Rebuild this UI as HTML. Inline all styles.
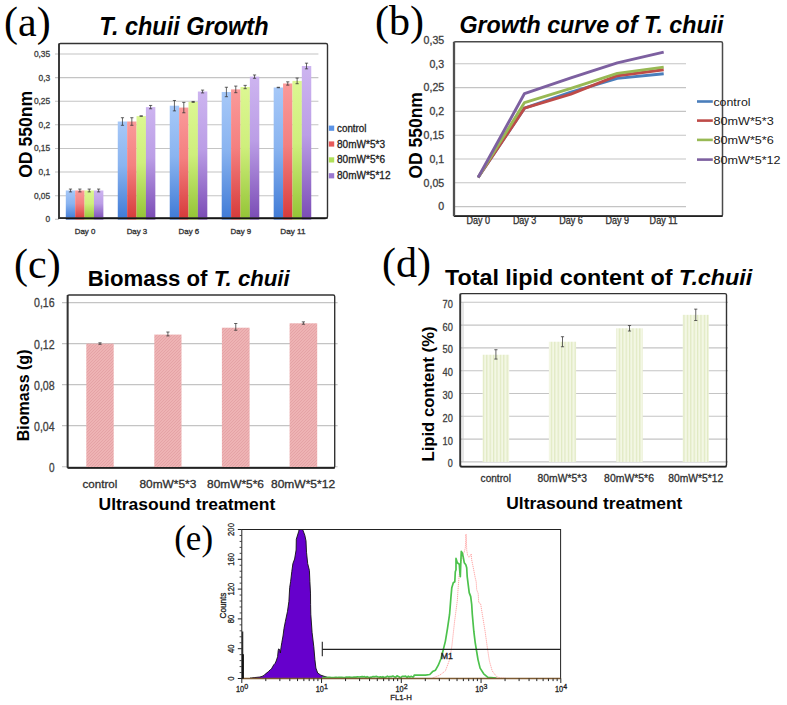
<!DOCTYPE html>
<html><head><meta charset="utf-8"><style>
html,body{margin:0;padding:0;background:#fff;}
svg{display:block;}
</style></head><body>
<svg width="787" height="705" viewBox="0 0 787 705">
<rect width="787" height="705" fill="#fff"/>
<defs>
<linearGradient id="gb" x1="0" y1="0" x2="0" y2="1"><stop offset="0" stop-color="#a6c8f8"/><stop offset="0.45" stop-color="#8ab4f0"/><stop offset="1" stop-color="#3f7ad6"/></linearGradient>
<linearGradient id="gr" x1="0" y1="0" x2="0" y2="1"><stop offset="0" stop-color="#fa9a9a"/><stop offset="0.45" stop-color="#f48080"/><stop offset="1" stop-color="#d63a3a"/></linearGradient>
<linearGradient id="gg" x1="0" y1="0" x2="0" y2="1"><stop offset="0" stop-color="#dcf792"/><stop offset="0.45" stop-color="#cfef7c"/><stop offset="1" stop-color="#93c435"/></linearGradient>
<linearGradient id="gp" x1="0" y1="0" x2="0" y2="1"><stop offset="0" stop-color="#cdb4f0"/><stop offset="0.45" stop-color="#bb9ee6"/><stop offset="1" stop-color="#7a4bb5"/></linearGradient>
<pattern id="hatchR" width="3" height="3" patternUnits="userSpaceOnUse"><rect width="3" height="3" fill="#eeb3b4"/><path d="M0,3 L3,0 M-1,1 L1,-1 M2,4 L4,2" stroke="#e29ea1" stroke-width="0.75"/></pattern>
<pattern id="hatchG" width="3.4" height="10" patternUnits="userSpaceOnUse"><rect width="3.4" height="10" fill="#f3f7e4"/><rect x="0" width="1.2" height="10" fill="#e0e9c2"/></pattern>
</defs>
<text x="4.00" y="35.50" font-size="42" fill="#000" font-family='"Liberation Serif", serif'>(a)</text>
<text x="375.00" y="35.20" font-size="42" fill="#000" font-family='"Liberation Serif", serif'>(b)</text>
<text x="14.00" y="277.50" font-size="42" fill="#000" font-family='"Liberation Serif", serif'>(c)</text>
<text x="382.00" y="276.70" font-size="42" fill="#000" font-family='"Liberation Serif", serif'>(d)</text>
<text x="174.20" y="550.20" font-size="35" fill="#000" font-family='"Liberation Serif", serif'>(e)</text>
<line x1="55.00" y1="195.68" x2="318.40" y2="195.68" stroke="#c4c4c4" stroke-width="1.1"/>
<line x1="55.00" y1="172.06" x2="318.40" y2="172.06" stroke="#c4c4c4" stroke-width="1.1"/>
<line x1="55.00" y1="148.44" x2="318.40" y2="148.44" stroke="#c4c4c4" stroke-width="1.1"/>
<line x1="55.00" y1="124.82" x2="318.40" y2="124.82" stroke="#c4c4c4" stroke-width="1.1"/>
<line x1="55.00" y1="101.20" x2="318.40" y2="101.20" stroke="#c4c4c4" stroke-width="1.1"/>
<line x1="55.00" y1="77.58" x2="318.40" y2="77.58" stroke="#c4c4c4" stroke-width="1.1"/>
<line x1="55.00" y1="53.96" x2="318.40" y2="53.96" stroke="#c4c4c4" stroke-width="1.1"/>
<line x1="55.00" y1="219.30" x2="59.00" y2="219.30" stroke="#c4c4c4" stroke-width="1.1"/>
<rect x="59.00" y="43.50" width="268.50" height="174.60" fill="none" stroke="#333" stroke-width="1.4" rx="1.5"/>
<rect x="65.80" y="190.48" width="9.43" height="29.02" fill="url(#gb)"/>
<rect x="75.18" y="190.48" width="9.43" height="29.02" fill="url(#gr)"/>
<rect x="84.56" y="190.48" width="9.43" height="29.02" fill="url(#gg)"/>
<rect x="93.94" y="190.48" width="9.43" height="29.02" fill="url(#gp)"/>
<rect x="117.77" y="121.51" width="9.43" height="97.99" fill="url(#gb)"/>
<rect x="127.15" y="121.51" width="9.43" height="97.99" fill="url(#gr)"/>
<rect x="136.53" y="116.08" width="9.43" height="103.42" fill="url(#gg)"/>
<rect x="145.91" y="107.11" width="9.43" height="112.39" fill="url(#gp)"/>
<rect x="169.74" y="105.69" width="9.43" height="113.81" fill="url(#gb)"/>
<rect x="179.12" y="107.58" width="9.43" height="111.92" fill="url(#gr)"/>
<rect x="188.50" y="101.91" width="9.43" height="117.59" fill="url(#gg)"/>
<rect x="197.88" y="91.52" width="9.43" height="127.98" fill="url(#gp)"/>
<rect x="221.71" y="91.99" width="9.43" height="127.51" fill="url(#gb)"/>
<rect x="231.09" y="89.39" width="9.43" height="130.11" fill="url(#gr)"/>
<rect x="240.47" y="87.03" width="9.43" height="132.47" fill="url(#gg)"/>
<rect x="249.85" y="76.64" width="9.43" height="142.86" fill="url(#gp)"/>
<rect x="273.68" y="87.50" width="9.43" height="132.00" fill="url(#gb)"/>
<rect x="283.06" y="83.49" width="9.43" height="136.01" fill="url(#gr)"/>
<rect x="292.44" y="80.89" width="9.43" height="138.61" fill="url(#gg)"/>
<rect x="301.82" y="66.01" width="9.43" height="153.49" fill="url(#gp)"/>
<line x1="58.20" y1="218.10" x2="327.50" y2="218.10" stroke="#2a2a2a" stroke-width="1.7"/>
<rect x="65.80" y="218.10" width="259.85" height="1.30" fill="rgba(0,0,0,0.55)"/>
<line x1="59.00" y1="43.50" x2="59.00" y2="218.90" stroke="#333" stroke-width="1.7"/>
<line x1="70.49" y1="189.07" x2="70.49" y2="191.90" stroke="#333" stroke-width="0.75"/>
<line x1="68.89" y1="189.07" x2="72.09" y2="189.07" stroke="#333" stroke-width="0.75"/>
<line x1="68.89" y1="191.90" x2="72.09" y2="191.90" stroke="#333" stroke-width="0.75"/>
<line x1="79.87" y1="189.07" x2="79.87" y2="191.90" stroke="#333" stroke-width="0.75"/>
<line x1="78.27" y1="189.07" x2="81.47" y2="189.07" stroke="#333" stroke-width="0.75"/>
<line x1="78.27" y1="191.90" x2="81.47" y2="191.90" stroke="#333" stroke-width="0.75"/>
<line x1="89.25" y1="189.07" x2="89.25" y2="191.90" stroke="#333" stroke-width="0.75"/>
<line x1="87.65" y1="189.07" x2="90.85" y2="189.07" stroke="#333" stroke-width="0.75"/>
<line x1="87.65" y1="191.90" x2="90.85" y2="191.90" stroke="#333" stroke-width="0.75"/>
<line x1="98.63" y1="189.07" x2="98.63" y2="191.90" stroke="#333" stroke-width="0.75"/>
<line x1="97.03" y1="189.07" x2="100.23" y2="189.07" stroke="#333" stroke-width="0.75"/>
<line x1="97.03" y1="191.90" x2="100.23" y2="191.90" stroke="#333" stroke-width="0.75"/>
<line x1="122.46" y1="117.73" x2="122.46" y2="125.29" stroke="#333" stroke-width="0.75"/>
<line x1="120.86" y1="117.73" x2="124.06" y2="117.73" stroke="#333" stroke-width="0.75"/>
<line x1="120.86" y1="125.29" x2="124.06" y2="125.29" stroke="#333" stroke-width="0.75"/>
<line x1="131.84" y1="117.73" x2="131.84" y2="125.29" stroke="#333" stroke-width="0.75"/>
<line x1="130.24" y1="117.73" x2="133.44" y2="117.73" stroke="#333" stroke-width="0.75"/>
<line x1="130.24" y1="125.29" x2="133.44" y2="125.29" stroke="#333" stroke-width="0.75"/>
<line x1="141.22" y1="115.84" x2="141.22" y2="116.32" stroke="#333" stroke-width="0.75"/>
<line x1="139.62" y1="115.84" x2="142.82" y2="115.84" stroke="#333" stroke-width="0.75"/>
<line x1="139.62" y1="116.32" x2="142.82" y2="116.32" stroke="#333" stroke-width="0.75"/>
<line x1="150.60" y1="105.45" x2="150.60" y2="108.76" stroke="#333" stroke-width="0.75"/>
<line x1="149.00" y1="105.45" x2="152.20" y2="105.45" stroke="#333" stroke-width="0.75"/>
<line x1="149.00" y1="108.76" x2="152.20" y2="108.76" stroke="#333" stroke-width="0.75"/>
<line x1="174.43" y1="100.49" x2="174.43" y2="110.88" stroke="#333" stroke-width="0.75"/>
<line x1="172.83" y1="100.49" x2="176.03" y2="100.49" stroke="#333" stroke-width="0.75"/>
<line x1="172.83" y1="110.88" x2="176.03" y2="110.88" stroke="#333" stroke-width="0.75"/>
<line x1="183.81" y1="102.38" x2="183.81" y2="112.77" stroke="#333" stroke-width="0.75"/>
<line x1="182.21" y1="102.38" x2="185.41" y2="102.38" stroke="#333" stroke-width="0.75"/>
<line x1="182.21" y1="112.77" x2="185.41" y2="112.77" stroke="#333" stroke-width="0.75"/>
<line x1="193.19" y1="101.44" x2="193.19" y2="102.38" stroke="#333" stroke-width="0.75"/>
<line x1="191.59" y1="101.44" x2="194.79" y2="101.44" stroke="#333" stroke-width="0.75"/>
<line x1="191.59" y1="102.38" x2="194.79" y2="102.38" stroke="#333" stroke-width="0.75"/>
<line x1="202.57" y1="90.10" x2="202.57" y2="92.93" stroke="#333" stroke-width="0.75"/>
<line x1="200.97" y1="90.10" x2="204.17" y2="90.10" stroke="#333" stroke-width="0.75"/>
<line x1="200.97" y1="92.93" x2="204.17" y2="92.93" stroke="#333" stroke-width="0.75"/>
<line x1="226.40" y1="87.26" x2="226.40" y2="96.71" stroke="#333" stroke-width="0.75"/>
<line x1="224.80" y1="87.26" x2="228.00" y2="87.26" stroke="#333" stroke-width="0.75"/>
<line x1="224.80" y1="96.71" x2="228.00" y2="96.71" stroke="#333" stroke-width="0.75"/>
<line x1="235.78" y1="86.08" x2="235.78" y2="92.70" stroke="#333" stroke-width="0.75"/>
<line x1="234.18" y1="86.08" x2="237.38" y2="86.08" stroke="#333" stroke-width="0.75"/>
<line x1="234.18" y1="92.70" x2="237.38" y2="92.70" stroke="#333" stroke-width="0.75"/>
<line x1="245.16" y1="85.37" x2="245.16" y2="88.68" stroke="#333" stroke-width="0.75"/>
<line x1="243.56" y1="85.37" x2="246.76" y2="85.37" stroke="#333" stroke-width="0.75"/>
<line x1="243.56" y1="88.68" x2="246.76" y2="88.68" stroke="#333" stroke-width="0.75"/>
<line x1="254.54" y1="74.98" x2="254.54" y2="78.29" stroke="#333" stroke-width="0.75"/>
<line x1="252.94" y1="74.98" x2="256.14" y2="74.98" stroke="#333" stroke-width="0.75"/>
<line x1="252.94" y1="78.29" x2="256.14" y2="78.29" stroke="#333" stroke-width="0.75"/>
<line x1="278.37" y1="87.26" x2="278.37" y2="87.74" stroke="#333" stroke-width="0.75"/>
<line x1="276.77" y1="87.26" x2="279.97" y2="87.26" stroke="#333" stroke-width="0.75"/>
<line x1="276.77" y1="87.74" x2="279.97" y2="87.74" stroke="#333" stroke-width="0.75"/>
<line x1="287.75" y1="81.83" x2="287.75" y2="85.14" stroke="#333" stroke-width="0.75"/>
<line x1="286.15" y1="81.83" x2="289.35" y2="81.83" stroke="#333" stroke-width="0.75"/>
<line x1="286.15" y1="85.14" x2="289.35" y2="85.14" stroke="#333" stroke-width="0.75"/>
<line x1="297.13" y1="78.05" x2="297.13" y2="83.72" stroke="#333" stroke-width="0.75"/>
<line x1="295.53" y1="78.05" x2="298.73" y2="78.05" stroke="#333" stroke-width="0.75"/>
<line x1="295.53" y1="83.72" x2="298.73" y2="83.72" stroke="#333" stroke-width="0.75"/>
<line x1="306.51" y1="63.17" x2="306.51" y2="68.84" stroke="#333" stroke-width="0.75"/>
<line x1="304.91" y1="63.17" x2="308.11" y2="63.17" stroke="#333" stroke-width="0.75"/>
<line x1="304.91" y1="68.84" x2="308.11" y2="68.84" stroke="#333" stroke-width="0.75"/>
<text x="50.20" y="222.30" font-size="8.4" fill="#404040" font-family='"Liberation Sans", sans-serif' stroke="#404040" stroke-width="0.3" text-anchor="end">0</text>
<text x="50.20" y="198.68" font-size="8.4" fill="#404040" font-family='"Liberation Sans", sans-serif' stroke="#404040" stroke-width="0.3" text-anchor="end">0,05</text>
<text x="50.20" y="175.06" font-size="8.4" fill="#404040" font-family='"Liberation Sans", sans-serif' stroke="#404040" stroke-width="0.3" text-anchor="end">0,1</text>
<text x="50.20" y="151.44" font-size="8.4" fill="#404040" font-family='"Liberation Sans", sans-serif' stroke="#404040" stroke-width="0.3" text-anchor="end">0,15</text>
<text x="50.20" y="127.82" font-size="8.4" fill="#404040" font-family='"Liberation Sans", sans-serif' stroke="#404040" stroke-width="0.3" text-anchor="end">0,2</text>
<text x="50.20" y="104.20" font-size="8.4" fill="#404040" font-family='"Liberation Sans", sans-serif' stroke="#404040" stroke-width="0.3" text-anchor="end">0,25</text>
<text x="50.20" y="80.58" font-size="8.4" fill="#404040" font-family='"Liberation Sans", sans-serif' stroke="#404040" stroke-width="0.3" text-anchor="end">0,3</text>
<text x="50.20" y="56.96" font-size="8.4" fill="#404040" font-family='"Liberation Sans", sans-serif' stroke="#404040" stroke-width="0.3" text-anchor="end">0,35</text>
<text x="85.00" y="233.50" font-size="7.6" fill="#303030" font-family='"Liberation Sans", sans-serif' stroke="#303030" stroke-width="0.3" text-anchor="middle" textLength="20.60" lengthAdjust="spacingAndGlyphs">Day 0</text>
<text x="136.97" y="233.50" font-size="7.6" fill="#303030" font-family='"Liberation Sans", sans-serif' stroke="#303030" stroke-width="0.3" text-anchor="middle" textLength="20.60" lengthAdjust="spacingAndGlyphs">Day 3</text>
<text x="188.94" y="233.50" font-size="7.6" fill="#303030" font-family='"Liberation Sans", sans-serif' stroke="#303030" stroke-width="0.3" text-anchor="middle" textLength="20.60" lengthAdjust="spacingAndGlyphs">Day 6</text>
<text x="240.91" y="233.50" font-size="7.6" fill="#303030" font-family='"Liberation Sans", sans-serif' stroke="#303030" stroke-width="0.3" text-anchor="middle" textLength="20.60" lengthAdjust="spacingAndGlyphs">Day 9</text>
<text x="292.88" y="233.50" font-size="7.6" fill="#303030" font-family='"Liberation Sans", sans-serif' stroke="#303030" stroke-width="0.3" text-anchor="middle" textLength="25.20" lengthAdjust="spacingAndGlyphs">Day 11</text>
<text x="32.20" y="177.80" font-size="19" fill="#000" font-family='"Liberation Sans", sans-serif' font-weight="bold" textLength="86.80" lengthAdjust="spacingAndGlyphs" transform="rotate(-90 32.20 177.80)">OD 550nm</text>
<text x="99.30" y="34.50" font-size="26" fill="#000" font-family='"Liberation Sans", sans-serif' font-weight="bold" font-style="italic" textLength="169.20" lengthAdjust="spacingAndGlyphs">T. chuii Growth</text>
<rect x="328.80" y="125.60" width="5.40" height="5.20" fill="#5b93e6"/>
<rect x="328.80" y="141.40" width="5.40" height="5.20" fill="#e65a5a"/>
<rect x="328.80" y="157.30" width="5.40" height="5.20" fill="#b0e05a"/>
<rect x="328.80" y="173.20" width="5.40" height="5.20" fill="#9a78d0"/>
<text x="337.00" y="131.70" font-size="10.0" fill="#222" font-family='"Liberation Sans", sans-serif' stroke="#222" stroke-width="0.3" textLength="29.50" lengthAdjust="spacingAndGlyphs">control</text>
<text x="337.00" y="147.50" font-size="10.0" fill="#222" font-family='"Liberation Sans", sans-serif' stroke="#222" stroke-width="0.3" textLength="48.00" lengthAdjust="spacingAndGlyphs">80mW*5*3</text>
<text x="337.00" y="163.40" font-size="10.0" fill="#222" font-family='"Liberation Sans", sans-serif' stroke="#222" stroke-width="0.3" textLength="48.00" lengthAdjust="spacingAndGlyphs">80mW*5*6</text>
<text x="337.00" y="179.30" font-size="10.0" fill="#222" font-family='"Liberation Sans", sans-serif' stroke="#222" stroke-width="0.3" textLength="53.50" lengthAdjust="spacingAndGlyphs">80mW*5*12</text>
<line x1="455.00" y1="206.60" x2="686.00" y2="206.60" stroke="#c4c4c4" stroke-width="1.1"/>
<line x1="455.00" y1="182.80" x2="686.00" y2="182.80" stroke="#c4c4c4" stroke-width="1.1"/>
<line x1="455.00" y1="159.00" x2="686.00" y2="159.00" stroke="#c4c4c4" stroke-width="1.1"/>
<line x1="455.00" y1="135.20" x2="686.00" y2="135.20" stroke="#c4c4c4" stroke-width="1.1"/>
<line x1="455.00" y1="111.40" x2="686.00" y2="111.40" stroke="#c4c4c4" stroke-width="1.1"/>
<line x1="455.00" y1="87.60" x2="686.00" y2="87.60" stroke="#c4c4c4" stroke-width="1.1"/>
<line x1="455.00" y1="63.80" x2="686.00" y2="63.80" stroke="#c4c4c4" stroke-width="1.1"/>
<rect x="454.00" y="41.80" width="268.50" height="174.40" fill="none" stroke="#4a4a4a" stroke-width="1.5" rx="1.5"/>
<line x1="454.00" y1="216.20" x2="722.50" y2="216.20" stroke="#222" stroke-width="1.8"/>
<line x1="454.00" y1="41.80" x2="454.00" y2="216.20" stroke="#505050" stroke-width="2.3"/>
<polyline points="478.10,177.56 524.50,108.07 570.90,92.12 617.30,78.32 663.70,73.80" fill="none" stroke="#4a7ebb" stroke-width="2.9" stroke-linejoin="round"/>
<polyline points="478.10,177.56 524.50,108.07 570.90,94.03 617.30,75.70 663.70,69.75" fill="none" stroke="#be4b48" stroke-width="2.9" stroke-linejoin="round"/>
<polyline points="478.10,177.56 524.50,102.59 570.90,88.31 617.30,73.32 663.70,67.13" fill="none" stroke="#98b954" stroke-width="2.9" stroke-linejoin="round"/>
<polyline points="478.10,177.56 524.50,93.55 570.90,77.84 617.30,62.85 663.70,52.14" fill="none" stroke="#7d60a0" stroke-width="2.9" stroke-linejoin="round"/>
<text x="444.20" y="210.40" font-size="10.6" fill="#404040" font-family='"Liberation Sans", sans-serif' stroke="#404040" stroke-width="0.3" text-anchor="end">0</text>
<text x="444.20" y="186.60" font-size="10.6" fill="#404040" font-family='"Liberation Sans", sans-serif' stroke="#404040" stroke-width="0.3" text-anchor="end">0,05</text>
<text x="444.20" y="162.80" font-size="10.6" fill="#404040" font-family='"Liberation Sans", sans-serif' stroke="#404040" stroke-width="0.3" text-anchor="end">0,1</text>
<text x="444.20" y="139.00" font-size="10.6" fill="#404040" font-family='"Liberation Sans", sans-serif' stroke="#404040" stroke-width="0.3" text-anchor="end">0,15</text>
<text x="444.20" y="115.20" font-size="10.6" fill="#404040" font-family='"Liberation Sans", sans-serif' stroke="#404040" stroke-width="0.3" text-anchor="end">0,2</text>
<text x="444.20" y="91.40" font-size="10.6" fill="#404040" font-family='"Liberation Sans", sans-serif' stroke="#404040" stroke-width="0.3" text-anchor="end">0,25</text>
<text x="444.20" y="67.60" font-size="10.6" fill="#404040" font-family='"Liberation Sans", sans-serif' stroke="#404040" stroke-width="0.3" text-anchor="end">0,3</text>
<text x="444.20" y="43.80" font-size="10.6" fill="#404040" font-family='"Liberation Sans", sans-serif' stroke="#404040" stroke-width="0.3" text-anchor="end">0,35</text>
<text x="478.30" y="224.00" font-size="10" fill="#303030" font-family='"Liberation Sans", sans-serif' stroke="#303030" stroke-width="0.3" text-anchor="middle" textLength="23.50" lengthAdjust="spacingAndGlyphs">Day 0</text>
<text x="524.63" y="224.00" font-size="10" fill="#303030" font-family='"Liberation Sans", sans-serif' stroke="#303030" stroke-width="0.3" text-anchor="middle" textLength="23.50" lengthAdjust="spacingAndGlyphs">Day 3</text>
<text x="570.96" y="224.00" font-size="10" fill="#303030" font-family='"Liberation Sans", sans-serif' stroke="#303030" stroke-width="0.3" text-anchor="middle" textLength="23.50" lengthAdjust="spacingAndGlyphs">Day 6</text>
<text x="617.29" y="224.00" font-size="10" fill="#303030" font-family='"Liberation Sans", sans-serif' stroke="#303030" stroke-width="0.3" text-anchor="middle" textLength="23.50" lengthAdjust="spacingAndGlyphs">Day 9</text>
<text x="663.62" y="224.00" font-size="10" fill="#303030" font-family='"Liberation Sans", sans-serif' stroke="#303030" stroke-width="0.3" text-anchor="middle" textLength="28.00" lengthAdjust="spacingAndGlyphs">Day 11</text>
<text x="422.50" y="178.60" font-size="19" fill="#000" font-family='"Liberation Sans", sans-serif' font-weight="bold" textLength="86.50" lengthAdjust="spacingAndGlyphs" transform="rotate(-90 422.50 178.60)">OD 550nm</text>
<text x="459.50" y="32.70" font-size="24" fill="#000" font-family='"Liberation Sans", sans-serif' font-weight="bold" font-style="italic" textLength="264.00" lengthAdjust="spacingAndGlyphs">Growth curve of T. chuii</text>
<line x1="697.00" y1="101.50" x2="712.80" y2="101.50" stroke="#4a7ebb" stroke-width="2.6"/>
<line x1="697.00" y1="120.60" x2="712.80" y2="120.60" stroke="#be4b48" stroke-width="2.6"/>
<line x1="697.00" y1="139.90" x2="712.80" y2="139.90" stroke="#98b954" stroke-width="2.6"/>
<line x1="697.00" y1="159.60" x2="712.80" y2="159.60" stroke="#7d60a0" stroke-width="2.6"/>
<text x="713.40" y="105.90" font-size="10.4" fill="#1a1a1a" font-family='"Liberation Sans", sans-serif' textLength="37.20" lengthAdjust="spacingAndGlyphs">control</text>
<text x="713.40" y="125.00" font-size="10.4" fill="#1a1a1a" font-family='"Liberation Sans", sans-serif' textLength="60.40" lengthAdjust="spacingAndGlyphs">80mW*5*3</text>
<text x="713.40" y="144.30" font-size="10.4" fill="#1a1a1a" font-family='"Liberation Sans", sans-serif' textLength="60.40" lengthAdjust="spacingAndGlyphs">80mW*5*6</text>
<text x="713.40" y="164.00" font-size="10.4" fill="#1a1a1a" font-family='"Liberation Sans", sans-serif' textLength="67.20" lengthAdjust="spacingAndGlyphs">80mW*5*12</text>
<line x1="62.00" y1="466.70" x2="337.60" y2="466.70" stroke="#c4c4c4" stroke-width="1.1"/>
<line x1="62.00" y1="425.67" x2="337.60" y2="425.67" stroke="#c4c4c4" stroke-width="1.1"/>
<line x1="62.00" y1="384.64" x2="337.60" y2="384.64" stroke="#c4c4c4" stroke-width="1.1"/>
<line x1="62.00" y1="343.61" x2="337.60" y2="343.61" stroke="#c4c4c4" stroke-width="1.1"/>
<line x1="62.00" y1="302.58" x2="337.60" y2="302.58" stroke="#c4c4c4" stroke-width="1.1"/>
<rect x="86.30" y="343.61" width="27.40" height="124.29" fill="url(#hatchR)"/>
<rect x="154.30" y="334.58" width="27.20" height="133.32" fill="url(#hatchR)"/>
<rect x="221.90" y="327.71" width="27.70" height="140.19" fill="url(#hatchR)"/>
<rect x="289.60" y="323.30" width="27.60" height="144.60" fill="url(#hatchR)"/>
<rect x="67.60" y="295.00" width="267.10" height="172.90" fill="none" stroke="#333" stroke-width="1.4" rx="1.5"/>
<line x1="67.60" y1="467.90" x2="334.70" y2="467.90" stroke="#222" stroke-width="1.8"/>
<line x1="67.60" y1="295.00" x2="67.60" y2="467.90" stroke="#333" stroke-width="1.8"/>
<line x1="100.00" y1="342.79" x2="100.00" y2="344.33" stroke="#333" stroke-width="0.75"/>
<line x1="98.40" y1="342.79" x2="101.60" y2="342.79" stroke="#333" stroke-width="0.75"/>
<line x1="98.40" y1="344.33" x2="101.60" y2="344.33" stroke="#333" stroke-width="0.75"/>
<line x1="167.90" y1="332.02" x2="167.90" y2="335.92" stroke="#333" stroke-width="0.75"/>
<line x1="166.30" y1="332.02" x2="169.50" y2="332.02" stroke="#333" stroke-width="0.75"/>
<line x1="166.30" y1="335.92" x2="169.50" y2="335.92" stroke="#333" stroke-width="0.75"/>
<line x1="235.75" y1="323.51" x2="235.75" y2="330.28" stroke="#333" stroke-width="0.75"/>
<line x1="234.15" y1="323.51" x2="237.35" y2="323.51" stroke="#333" stroke-width="0.75"/>
<line x1="234.15" y1="330.28" x2="237.35" y2="330.28" stroke="#333" stroke-width="0.75"/>
<line x1="303.40" y1="321.86" x2="303.40" y2="324.22" stroke="#333" stroke-width="0.75"/>
<line x1="301.80" y1="321.86" x2="305.00" y2="321.86" stroke="#333" stroke-width="0.75"/>
<line x1="301.80" y1="324.22" x2="305.00" y2="324.22" stroke="#333" stroke-width="0.75"/>
<text x="54.60" y="471.60" font-size="12" fill="#404040" font-family='"Liberation Sans", sans-serif' stroke="#404040" stroke-width="0.3" text-anchor="end" textLength="5.60" lengthAdjust="spacingAndGlyphs">0</text>
<text x="54.60" y="430.57" font-size="12" fill="#404040" font-family='"Liberation Sans", sans-serif' stroke="#404040" stroke-width="0.3" text-anchor="end" textLength="20.60" lengthAdjust="spacingAndGlyphs">0,04</text>
<text x="54.60" y="389.54" font-size="12" fill="#404040" font-family='"Liberation Sans", sans-serif' stroke="#404040" stroke-width="0.3" text-anchor="end" textLength="20.60" lengthAdjust="spacingAndGlyphs">0,08</text>
<text x="54.60" y="348.51" font-size="12" fill="#404040" font-family='"Liberation Sans", sans-serif' stroke="#404040" stroke-width="0.3" text-anchor="end" textLength="20.60" lengthAdjust="spacingAndGlyphs">0,12</text>
<text x="54.60" y="307.48" font-size="12" fill="#404040" font-family='"Liberation Sans", sans-serif' stroke="#404040" stroke-width="0.3" text-anchor="end" textLength="20.60" lengthAdjust="spacingAndGlyphs">0,16</text>
<text x="82.50" y="488.00" font-size="10.8" fill="#303030" font-family='"Liberation Sans", sans-serif' stroke="#303030" stroke-width="0.3" textLength="34.80" lengthAdjust="spacingAndGlyphs">control</text>
<text x="139.40" y="488.00" font-size="10.8" fill="#303030" font-family='"Liberation Sans", sans-serif' stroke="#303030" stroke-width="0.3" textLength="56.90" lengthAdjust="spacingAndGlyphs">80mW*5*3</text>
<text x="207.00" y="488.00" font-size="10.8" fill="#303030" font-family='"Liberation Sans", sans-serif' stroke="#303030" stroke-width="0.3" textLength="57.00" lengthAdjust="spacingAndGlyphs">80mW*5*6</text>
<text x="271.00" y="488.00" font-size="10.8" fill="#303030" font-family='"Liberation Sans", sans-serif' stroke="#303030" stroke-width="0.3" textLength="64.10" lengthAdjust="spacingAndGlyphs">80mW*5*12</text>
<text x="98.50" y="509.70" font-size="17" fill="#000" font-family='"Liberation Sans", sans-serif' font-weight="bold" textLength="176.80" lengthAdjust="spacingAndGlyphs">Ultrasound treatment</text>
<text x="29.50" y="441.20" font-size="17" fill="#000" font-family='"Liberation Sans", sans-serif' font-weight="bold" textLength="91.70" lengthAdjust="spacingAndGlyphs" transform="rotate(-90 29.50 441.20)">Biomass (g)</text>
<text x="87.8" y="285.7" font-size="21.5" font-weight="bold" font-family='"Liberation Sans", sans-serif' textLength="201.9" lengthAdjust="spacingAndGlyphs">Biomass of <tspan font-style="italic">T. chuii</tspan></text>
<line x1="463.00" y1="302.00" x2="463.00" y2="462.00" stroke="#d0d0d0" stroke-width="1.0"/>
<line x1="460.50" y1="461.90" x2="728.00" y2="461.90" stroke="#c4c4c4" stroke-width="1.1"/>
<line x1="460.50" y1="439.10" x2="728.00" y2="439.10" stroke="#c4c4c4" stroke-width="1.1"/>
<line x1="460.50" y1="416.30" x2="728.00" y2="416.30" stroke="#c4c4c4" stroke-width="1.1"/>
<line x1="460.50" y1="393.50" x2="728.00" y2="393.50" stroke="#c4c4c4" stroke-width="1.1"/>
<line x1="460.50" y1="370.70" x2="728.00" y2="370.70" stroke="#c4c4c4" stroke-width="1.1"/>
<line x1="460.50" y1="347.90" x2="728.00" y2="347.90" stroke="#c4c4c4" stroke-width="1.1"/>
<line x1="460.50" y1="325.10" x2="728.00" y2="325.10" stroke="#c4c4c4" stroke-width="1.1"/>
<line x1="460.50" y1="302.30" x2="728.00" y2="302.30" stroke="#c4c4c4" stroke-width="1.1"/>
<rect x="482.60" y="354.74" width="26.60" height="107.16" fill="url(#hatchG)"/>
<rect x="548.90" y="341.74" width="27.20" height="120.16" fill="url(#hatchG)"/>
<rect x="616.20" y="328.29" width="26.60" height="133.61" fill="url(#hatchG)"/>
<rect x="682.70" y="314.84" width="26.10" height="147.06" fill="url(#hatchG)"/>
<rect x="460.30" y="293.60" width="266.20" height="173.00" fill="none" stroke="#333" stroke-width="1.4" rx="1.5"/>
<line x1="460.30" y1="466.60" x2="726.50" y2="466.60" stroke="#222" stroke-width="1.8"/>
<line x1="460.30" y1="293.60" x2="460.30" y2="466.60" stroke="#333" stroke-width="1.8"/>
<line x1="495.90" y1="349.72" x2="495.90" y2="359.07" stroke="#333" stroke-width="0.75"/>
<line x1="494.30" y1="349.72" x2="497.50" y2="349.72" stroke="#333" stroke-width="0.75"/>
<line x1="494.30" y1="359.07" x2="497.50" y2="359.07" stroke="#333" stroke-width="0.75"/>
<line x1="562.50" y1="336.73" x2="562.50" y2="346.76" stroke="#333" stroke-width="0.75"/>
<line x1="560.90" y1="336.73" x2="564.10" y2="336.73" stroke="#333" stroke-width="0.75"/>
<line x1="560.90" y1="346.76" x2="564.10" y2="346.76" stroke="#333" stroke-width="0.75"/>
<line x1="629.50" y1="325.56" x2="629.50" y2="331.03" stroke="#333" stroke-width="0.75"/>
<line x1="627.90" y1="325.56" x2="631.10" y2="325.56" stroke="#333" stroke-width="0.75"/>
<line x1="627.90" y1="331.03" x2="631.10" y2="331.03" stroke="#333" stroke-width="0.75"/>
<line x1="695.75" y1="309.14" x2="695.75" y2="320.54" stroke="#333" stroke-width="0.75"/>
<line x1="694.15" y1="309.14" x2="697.35" y2="309.14" stroke="#333" stroke-width="0.75"/>
<line x1="694.15" y1="320.54" x2="697.35" y2="320.54" stroke="#333" stroke-width="0.75"/>
<text x="452.80" y="467.30" font-size="10.9" fill="#404040" font-family='"Liberation Sans", sans-serif' stroke="#404040" stroke-width="0.3" text-anchor="end" textLength="5.00" lengthAdjust="spacingAndGlyphs">0</text>
<text x="452.80" y="444.50" font-size="10.9" fill="#404040" font-family='"Liberation Sans", sans-serif' stroke="#404040" stroke-width="0.3" text-anchor="end" textLength="10.30" lengthAdjust="spacingAndGlyphs">10</text>
<text x="452.80" y="421.70" font-size="10.9" fill="#404040" font-family='"Liberation Sans", sans-serif' stroke="#404040" stroke-width="0.3" text-anchor="end" textLength="10.30" lengthAdjust="spacingAndGlyphs">20</text>
<text x="452.80" y="398.90" font-size="10.9" fill="#404040" font-family='"Liberation Sans", sans-serif' stroke="#404040" stroke-width="0.3" text-anchor="end" textLength="10.30" lengthAdjust="spacingAndGlyphs">30</text>
<text x="452.80" y="376.10" font-size="10.9" fill="#404040" font-family='"Liberation Sans", sans-serif' stroke="#404040" stroke-width="0.3" text-anchor="end" textLength="10.30" lengthAdjust="spacingAndGlyphs">40</text>
<text x="452.80" y="353.30" font-size="10.9" fill="#404040" font-family='"Liberation Sans", sans-serif' stroke="#404040" stroke-width="0.3" text-anchor="end" textLength="10.30" lengthAdjust="spacingAndGlyphs">50</text>
<text x="452.80" y="330.50" font-size="10.9" fill="#404040" font-family='"Liberation Sans", sans-serif' stroke="#404040" stroke-width="0.3" text-anchor="end" textLength="10.30" lengthAdjust="spacingAndGlyphs">60</text>
<text x="452.80" y="307.70" font-size="10.9" fill="#404040" font-family='"Liberation Sans", sans-serif' stroke="#404040" stroke-width="0.3" text-anchor="end" textLength="10.30" lengthAdjust="spacingAndGlyphs">70</text>
<text x="480.60" y="482.00" font-size="10.8" fill="#303030" font-family='"Liberation Sans", sans-serif' stroke="#303030" stroke-width="0.3" textLength="30.30" lengthAdjust="spacingAndGlyphs">control</text>
<text x="537.60" y="482.00" font-size="10.8" fill="#303030" font-family='"Liberation Sans", sans-serif' stroke="#303030" stroke-width="0.3" textLength="49.40" lengthAdjust="spacingAndGlyphs">80mW*5*3</text>
<text x="604.10" y="482.00" font-size="10.8" fill="#303030" font-family='"Liberation Sans", sans-serif' stroke="#303030" stroke-width="0.3" textLength="49.90" lengthAdjust="spacingAndGlyphs">80mW*5*6</text>
<text x="668.20" y="482.00" font-size="10.8" fill="#303030" font-family='"Liberation Sans", sans-serif' stroke="#303030" stroke-width="0.3" textLength="55.10" lengthAdjust="spacingAndGlyphs">80mW*5*12</text>
<text x="506.30" y="509.10" font-size="17" fill="#000" font-family='"Liberation Sans", sans-serif' font-weight="bold" textLength="176.10" lengthAdjust="spacingAndGlyphs">Ultrasound treatment</text>
<text x="433.50" y="461.50" font-size="17" fill="#000" font-family='"Liberation Sans", sans-serif' font-weight="bold" textLength="135.00" lengthAdjust="spacingAndGlyphs" transform="rotate(-90 433.50 461.50)">Lipid content (%)</text>
<text x="444.9" y="285.4" font-size="22.3" font-weight="bold" font-family='"Liberation Sans", sans-serif' textLength="307.4" lengthAdjust="spacingAndGlyphs">Total lipid content of <tspan font-style="italic">T.chuii</tspan></text>
<path d="M250.0,678.2 L254.2,677.6 L259.9,677.0 L262.0,676.4 L264.1,675.4 L265.5,673.8 L267.0,672.8 L268.4,671.6 L270.5,669.5 L271.5,669.0 L272.6,666.7 L274.0,664.5 L275.0,663.5 L276.2,661.0 L277.6,656.7 L278.2,650.5 L278.6,648.9 L279.7,649.6 L280.4,653.0 L281.0,647.5 L281.8,642.6 L283.0,636.0 L284.0,628.4 L285.4,621.3 L286.5,616.0 L287.5,611.3 L288.9,601.4 L289.7,587.4 L290.6,581.7 L291.8,571.5 L292.9,563.6 L294.6,559.0 L296.1,550.0 L296.3,539.2 L298.6,531.8 L299.1,529.5 L302.9,529.5 L303.1,530.7 L304.8,535.2 L306.0,540.9 L306.5,552.2 L307.7,563.6 L309.4,570.4 L309.9,581.7 L310.5,593.1 L310.6,604.4 L310.8,614.2 L312.1,632.6 L313.8,646.8 L314.9,659.6 L315.9,668.1 L317.7,673.0 L320.9,675.2 L325.1,676.6 L328.7,677.7 L335.0,678.3 L335,678.5 L251.3,678.5 Z" fill="#6600cc" stroke="#111" stroke-width="0.9" stroke-linejoin="round"/>
<path d="M432.6,678.0 L439.7,675.2 L445.4,670.9 L449.6,659.6 L451.8,646.8 L454.6,621.3 L457.4,600.0 L457.8,592.6 L458.8,579.7 L459.8,569.8 L460.8,562.8 L462.8,554.9 L464.3,551.9 L465.3,547.9 L465.8,540.0 L465.7,534.3 L466.2,534.3 L466.7,549.9 L467.7,555.9 L469.2,557.4 L471.2,553.9 L471.7,559.9 L472.7,564.8 L473.7,569.8 L475.2,577.7 L476.2,581.7 L476.7,589.7 L478.2,593.6 L478.7,602.6 L480.6,603.6 L482.3,614.2 L485.1,631.2 L487.2,646.8 L489.4,661.0 L492.2,670.9 L496.5,676.6 L500.0,678.0 L506.0,678.3" fill="none" stroke="#ff9a9a" stroke-width="0.9" stroke-dasharray="1.2,0.8"/>
<path d="M322.0,677.6 L323.4,677.6 L324.8,677.5 L325.8,677.7 L327.4,677.6 L328.6,677.4 L329.9,677.4 L331.2,677.5 L332.2,677.5 L333.9,677.5 L335.5,677.4 L336.5,677.4 L337.9,677.6 L338.8,677.3 L340.1,677.3 L341.8,677.3 L343.6,677.5 L345.2,677.4 L346.9,677.1 L347.9,677.6 L349.0,677.0 L350.3,677.2 L351.5,677.3 L352.7,677.4 L354.1,677.2 L355.9,677.1 L357.6,676.9 L359.4,677.0 L360.4,676.8 L362.2,676.7 L363.6,676.9 L364.7,676.7 L366.1,677.4 L367.1,676.7 L368.9,677.6 L370.5,677.2 L371.5,677.3 L373.1,676.5 L374.0,676.9 L375.0,676.7 L376.2,676.4 L378.0,677.0 L379.8,677.2 L380.7,676.8 L381.7,677.4 L382.9,676.7 L384.0,677.6 L385.7,677.2 L387.4,676.2 L388.7,676.9 L390.0,676.6 L391.5,676.7 L392.9,676.0 L394.3,676.9 L395.8,677.2 L397.0,675.8 L398.4,676.6 L399.3,676.9 L400.7,677.7 L402.2,676.4 L403.1,676.4 L404.4,676.3 L405.6,676.2 L407.2,677.7 L408.2,676.2 L409.9,677.1 L411.2,676.3 L412.4,676.9 L413.6,676.8 L414.2,675.2 L425.5,675.2 L429.8,674.5 L432.6,671.6 L435.5,670.2 L438.3,665.2 L441.1,658.2 L443.3,649.6 L445.4,641.1 L447.5,628.4 L449.6,614.2 L450.9,597.6 L451.8,587.7 L453.3,582.7 L454.8,581.7 L455.3,571.8 L456.0,569.8 L456.0,558.4 L457.3,562.8 L459.3,564.3 L459.8,571.8 L460.3,576.7 L460.8,562.8 L461.3,551.4 L462.3,552.9 L463.3,557.4 L464.3,562.8 L465.8,564.8 L466.7,567.8 L467.2,576.7 L468.2,584.7 L469.2,592.6 L470.7,596.6 L471.7,604.5 L472.3,614.2 L473.8,631.2 L475.2,642.6 L476.6,651.1 L478.0,659.6 L480.1,668.1 L483.7,673.8 L487.9,677.3 L496.5,678.0" fill="none" stroke="#4cc24c" stroke-width="1.7" stroke-linejoin="round"/>
<rect x="241.80" y="529.50" width="318.80" height="149.00" fill="none" stroke="#222" stroke-width="1.0"/>
<line x1="241.80" y1="678.50" x2="560.60" y2="678.50" stroke="#7d5a32" stroke-width="1.5"/>
<line x1="242.70" y1="678.50" x2="242.70" y2="631.50" stroke="#111" stroke-width="1.1"/>
<rect x="242.00" y="654.20" width="1.90" height="24.30" fill="#111"/>
<line x1="237.80" y1="678.50" x2="241.80" y2="678.50" stroke="#222" stroke-width="1.0"/>
<text x="234.40" y="678.50" font-size="8.8" fill="#222" font-family='"Liberation Sans", sans-serif' stroke="#222" stroke-width="0.3" text-anchor="middle" textLength="4.30" lengthAdjust="spacingAndGlyphs" transform="rotate(-90 234.40 678.50)">0</text>
<line x1="237.80" y1="648.70" x2="241.80" y2="648.70" stroke="#222" stroke-width="1.0"/>
<text x="234.40" y="648.70" font-size="8.8" fill="#222" font-family='"Liberation Sans", sans-serif' stroke="#222" stroke-width="0.3" text-anchor="middle" textLength="8.50" lengthAdjust="spacingAndGlyphs" transform="rotate(-90 234.40 648.70)">40</text>
<line x1="237.80" y1="618.90" x2="241.80" y2="618.90" stroke="#222" stroke-width="1.0"/>
<text x="234.40" y="618.90" font-size="8.8" fill="#222" font-family='"Liberation Sans", sans-serif' stroke="#222" stroke-width="0.3" text-anchor="middle" textLength="8.50" lengthAdjust="spacingAndGlyphs" transform="rotate(-90 234.40 618.90)">80</text>
<line x1="237.80" y1="589.10" x2="241.80" y2="589.10" stroke="#222" stroke-width="1.0"/>
<text x="234.40" y="589.10" font-size="8.8" fill="#222" font-family='"Liberation Sans", sans-serif' stroke="#222" stroke-width="0.3" text-anchor="middle" textLength="12.80" lengthAdjust="spacingAndGlyphs" transform="rotate(-90 234.40 589.10)">120</text>
<line x1="237.80" y1="559.30" x2="241.80" y2="559.30" stroke="#222" stroke-width="1.0"/>
<text x="234.40" y="559.30" font-size="8.8" fill="#222" font-family='"Liberation Sans", sans-serif' stroke="#222" stroke-width="0.3" text-anchor="middle" textLength="12.80" lengthAdjust="spacingAndGlyphs" transform="rotate(-90 234.40 559.30)">160</text>
<line x1="237.80" y1="529.50" x2="241.80" y2="529.50" stroke="#222" stroke-width="1.0"/>
<text x="234.40" y="529.50" font-size="8.8" fill="#222" font-family='"Liberation Sans", sans-serif' stroke="#222" stroke-width="0.3" text-anchor="middle" textLength="12.80" lengthAdjust="spacingAndGlyphs" transform="rotate(-90 234.40 529.50)">200</text>
<line x1="239.60" y1="672.54" x2="241.80" y2="672.54" stroke="#333" stroke-width="0.9"/>
<line x1="239.60" y1="666.58" x2="241.80" y2="666.58" stroke="#333" stroke-width="0.9"/>
<line x1="239.60" y1="660.62" x2="241.80" y2="660.62" stroke="#333" stroke-width="0.9"/>
<line x1="239.60" y1="654.66" x2="241.80" y2="654.66" stroke="#333" stroke-width="0.9"/>
<line x1="239.60" y1="642.74" x2="241.80" y2="642.74" stroke="#333" stroke-width="0.9"/>
<line x1="239.60" y1="636.78" x2="241.80" y2="636.78" stroke="#333" stroke-width="0.9"/>
<line x1="239.60" y1="630.82" x2="241.80" y2="630.82" stroke="#333" stroke-width="0.9"/>
<line x1="239.60" y1="624.86" x2="241.80" y2="624.86" stroke="#333" stroke-width="0.9"/>
<line x1="239.60" y1="612.94" x2="241.80" y2="612.94" stroke="#333" stroke-width="0.9"/>
<line x1="239.60" y1="606.98" x2="241.80" y2="606.98" stroke="#333" stroke-width="0.9"/>
<line x1="239.60" y1="601.02" x2="241.80" y2="601.02" stroke="#333" stroke-width="0.9"/>
<line x1="239.60" y1="595.06" x2="241.80" y2="595.06" stroke="#333" stroke-width="0.9"/>
<line x1="239.60" y1="583.14" x2="241.80" y2="583.14" stroke="#333" stroke-width="0.9"/>
<line x1="239.60" y1="577.18" x2="241.80" y2="577.18" stroke="#333" stroke-width="0.9"/>
<line x1="239.60" y1="571.22" x2="241.80" y2="571.22" stroke="#333" stroke-width="0.9"/>
<line x1="239.60" y1="565.26" x2="241.80" y2="565.26" stroke="#333" stroke-width="0.9"/>
<line x1="239.60" y1="553.34" x2="241.80" y2="553.34" stroke="#333" stroke-width="0.9"/>
<line x1="239.60" y1="547.38" x2="241.80" y2="547.38" stroke="#333" stroke-width="0.9"/>
<line x1="239.60" y1="541.42" x2="241.80" y2="541.42" stroke="#333" stroke-width="0.9"/>
<line x1="239.60" y1="535.46" x2="241.80" y2="535.46" stroke="#333" stroke-width="0.9"/>
<line x1="241.80" y1="678.50" x2="241.80" y2="683.00" stroke="#222" stroke-width="1.0"/>
<line x1="265.81" y1="678.50" x2="265.81" y2="681.10" stroke="#222" stroke-width="1.0"/>
<line x1="279.85" y1="678.50" x2="279.85" y2="681.10" stroke="#222" stroke-width="1.0"/>
<line x1="289.81" y1="678.50" x2="289.81" y2="681.10" stroke="#222" stroke-width="1.0"/>
<line x1="297.54" y1="678.50" x2="297.54" y2="681.10" stroke="#222" stroke-width="1.0"/>
<line x1="303.86" y1="678.50" x2="303.86" y2="681.10" stroke="#222" stroke-width="1.0"/>
<line x1="309.20" y1="678.50" x2="309.20" y2="681.10" stroke="#222" stroke-width="1.0"/>
<line x1="313.82" y1="678.50" x2="313.82" y2="681.10" stroke="#222" stroke-width="1.0"/>
<line x1="317.90" y1="678.50" x2="317.90" y2="681.10" stroke="#222" stroke-width="1.0"/>
<text x="235.90" y="692.40" font-size="8.6" fill="#222" font-family='"Liberation Sans", sans-serif' stroke="#222" stroke-width="0.3" textLength="8.20" lengthAdjust="spacingAndGlyphs">10</text>
<text x="244.20" y="688.60" font-size="7.0" fill="#222" font-family='"Liberation Sans", sans-serif' stroke="#222" stroke-width="0.3">0</text>
<line x1="321.55" y1="678.50" x2="321.55" y2="683.00" stroke="#222" stroke-width="1.0"/>
<line x1="345.56" y1="678.50" x2="345.56" y2="681.10" stroke="#222" stroke-width="1.0"/>
<line x1="359.60" y1="678.50" x2="359.60" y2="681.10" stroke="#222" stroke-width="1.0"/>
<line x1="369.56" y1="678.50" x2="369.56" y2="681.10" stroke="#222" stroke-width="1.0"/>
<line x1="377.29" y1="678.50" x2="377.29" y2="681.10" stroke="#222" stroke-width="1.0"/>
<line x1="383.61" y1="678.50" x2="383.61" y2="681.10" stroke="#222" stroke-width="1.0"/>
<line x1="388.95" y1="678.50" x2="388.95" y2="681.10" stroke="#222" stroke-width="1.0"/>
<line x1="393.57" y1="678.50" x2="393.57" y2="681.10" stroke="#222" stroke-width="1.0"/>
<line x1="397.65" y1="678.50" x2="397.65" y2="681.10" stroke="#222" stroke-width="1.0"/>
<text x="315.65" y="692.40" font-size="8.6" fill="#222" font-family='"Liberation Sans", sans-serif' stroke="#222" stroke-width="0.3" textLength="8.20" lengthAdjust="spacingAndGlyphs">10</text>
<text x="323.95" y="688.60" font-size="7.0" fill="#222" font-family='"Liberation Sans", sans-serif' stroke="#222" stroke-width="0.3">1</text>
<line x1="401.30" y1="678.50" x2="401.30" y2="683.00" stroke="#222" stroke-width="1.0"/>
<line x1="425.31" y1="678.50" x2="425.31" y2="681.10" stroke="#222" stroke-width="1.0"/>
<line x1="439.35" y1="678.50" x2="439.35" y2="681.10" stroke="#222" stroke-width="1.0"/>
<line x1="449.31" y1="678.50" x2="449.31" y2="681.10" stroke="#222" stroke-width="1.0"/>
<line x1="457.04" y1="678.50" x2="457.04" y2="681.10" stroke="#222" stroke-width="1.0"/>
<line x1="463.36" y1="678.50" x2="463.36" y2="681.10" stroke="#222" stroke-width="1.0"/>
<line x1="468.70" y1="678.50" x2="468.70" y2="681.10" stroke="#222" stroke-width="1.0"/>
<line x1="473.32" y1="678.50" x2="473.32" y2="681.10" stroke="#222" stroke-width="1.0"/>
<line x1="477.40" y1="678.50" x2="477.40" y2="681.10" stroke="#222" stroke-width="1.0"/>
<text x="395.40" y="692.40" font-size="8.6" fill="#222" font-family='"Liberation Sans", sans-serif' stroke="#222" stroke-width="0.3" textLength="8.20" lengthAdjust="spacingAndGlyphs">10</text>
<text x="403.70" y="688.60" font-size="7.0" fill="#222" font-family='"Liberation Sans", sans-serif' stroke="#222" stroke-width="0.3">2</text>
<line x1="481.05" y1="678.50" x2="481.05" y2="683.00" stroke="#222" stroke-width="1.0"/>
<line x1="505.06" y1="678.50" x2="505.06" y2="681.10" stroke="#222" stroke-width="1.0"/>
<line x1="519.10" y1="678.50" x2="519.10" y2="681.10" stroke="#222" stroke-width="1.0"/>
<line x1="529.06" y1="678.50" x2="529.06" y2="681.10" stroke="#222" stroke-width="1.0"/>
<line x1="536.79" y1="678.50" x2="536.79" y2="681.10" stroke="#222" stroke-width="1.0"/>
<line x1="543.11" y1="678.50" x2="543.11" y2="681.10" stroke="#222" stroke-width="1.0"/>
<line x1="548.45" y1="678.50" x2="548.45" y2="681.10" stroke="#222" stroke-width="1.0"/>
<line x1="553.07" y1="678.50" x2="553.07" y2="681.10" stroke="#222" stroke-width="1.0"/>
<line x1="557.15" y1="678.50" x2="557.15" y2="681.10" stroke="#222" stroke-width="1.0"/>
<text x="475.15" y="692.40" font-size="8.6" fill="#222" font-family='"Liberation Sans", sans-serif' stroke="#222" stroke-width="0.3" textLength="8.20" lengthAdjust="spacingAndGlyphs">10</text>
<text x="483.45" y="688.60" font-size="7.0" fill="#222" font-family='"Liberation Sans", sans-serif' stroke="#222" stroke-width="0.3">3</text>
<line x1="560.80" y1="678.50" x2="560.80" y2="683.00" stroke="#222" stroke-width="1.0"/>
<text x="554.90" y="692.40" font-size="8.6" fill="#222" font-family='"Liberation Sans", sans-serif' stroke="#222" stroke-width="0.3" textLength="8.20" lengthAdjust="spacingAndGlyphs">10</text>
<text x="563.20" y="688.60" font-size="7.0" fill="#222" font-family='"Liberation Sans", sans-serif' stroke="#222" stroke-width="0.3">4</text>
<text x="401.00" y="699.50" font-size="7.8" fill="#222" font-family='"Liberation Sans", sans-serif' stroke="#222" stroke-width="0.3" text-anchor="middle">FL1-H</text>
<text x="226.20" y="605.50" font-size="8.2" fill="#222" font-family='"Liberation Sans", sans-serif' stroke="#222" stroke-width="0.3" text-anchor="middle" textLength="26.00" lengthAdjust="spacingAndGlyphs" transform="rotate(-90 226.20 605.50)">Counts</text>
<line x1="322.30" y1="649.40" x2="560.60" y2="649.40" stroke="#222" stroke-width="1.1"/>
<line x1="322.30" y1="641.80" x2="322.30" y2="656.30" stroke="#222" stroke-width="1.1"/>
<text x="440.70" y="659.00" font-size="8.6" fill="#222" font-family='"Liberation Sans", sans-serif' stroke="#222" stroke-width="0.3" textLength="12.20" lengthAdjust="spacingAndGlyphs">M1</text>
</svg>
</body></html>
